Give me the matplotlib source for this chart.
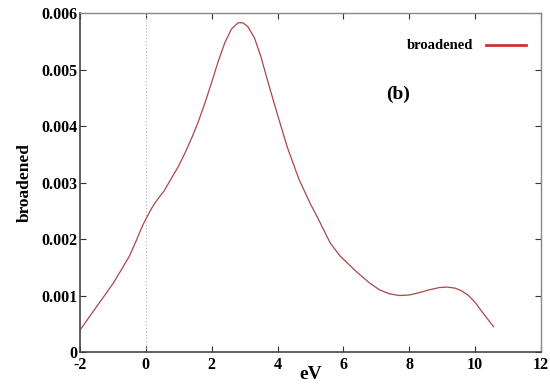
import matplotlib
matplotlib.use('Agg')
import matplotlib.pyplot as plt

# curve values (eV, broadened)
energy = [-2.0, -1.5, -1.0, -0.7, -0.5, -0.3, -0.1, 0.05, 0.2, 0.35, 0.55, 0.8,
          1.0, 1.2, 1.4, 1.6, 1.8, 2.0, 2.2, 2.4, 2.6, 2.8, 2.95, 3.1, 3.3,
          3.5, 3.7, 4.0, 4.3, 4.65, 5.0, 5.2, 5.6, 5.9, 6.4, 6.8,
          7.1, 7.4, 7.7, 8.0, 8.3, 8.6, 8.9, 9.15, 9.4, 9.6, 9.8, 10.0, 10.2,
          10.4, 10.56]
broadened = [0.00039, 0.00080, 0.00121, 0.00150, 0.00170, 0.00196, 0.00224,
             0.00241, 0.00257, 0.00270, 0.00285, 0.00310, 0.00330, 0.00354,
             0.00380, 0.00409, 0.00442, 0.00478, 0.00515, 0.00548, 0.00572,
             0.00583, 0.00583, 0.00576, 0.00556, 0.00522, 0.00480, 0.00420,
             0.00362, 0.00306, 0.00262, 0.00240, 0.00193, 0.00170, 0.00142,
             0.00122, 0.00110, 0.00103, 0.00100, 0.00101,
             0.00105, 0.00110, 0.00114, 0.00115, 0.00113, 0.00108, 0.00100,
             0.00088, 0.00072, 0.00057, 0.00045]

x_ticks = [-2, 0, 2, 4, 6, 8, 10, 12]
y_ticks = [0, 0.001, 0.002, 0.003, 0.004, 0.005, 0.006]
y_labels = ['0', '0.001', '0.002', '0.003', '0.004', '0.005', '0.006']

plt.rcParams['font.family'] = ['Liberation Serif', 'DejaVu Serif']
plt.rcParams['font.weight'] = 'bold'

fig = plt.figure(figsize=(5.5, 3.85), dpi=100)
ax = fig.add_axes([0.1455, 0.0857, 0.838, 0.880])

ax.axvline(0, color='#aaaaaa', lw=0.8, ls=(0, (1, 2)))
ax.plot(energy, broadened, color='#a84848', lw=0.9)

# legend drawn by hand: label on the left, red line sample on the right
ax.text(0.852, 0.905, 'broadened', transform=ax.transAxes, ha='right', va='center',
        fontsize=10.5, fontweight='bold')
ax.plot([0.88, 0.968], [0.905, 0.905], transform=ax.transAxes, color='#cc3333', lw=2)
ax.text(0.69, 0.76, '(b)', transform=ax.transAxes, ha='center', va='center',
        fontsize=14, fontweight='bold')

ax.set_xlim(-2, 12)
ax.set_ylim(0, 0.006)
ax.set_xticks(x_ticks)
ax.set_xticklabels([str(t) for t in x_ticks])
ax.set_yticks(y_ticks)
ax.set_yticklabels(y_labels)
ax.tick_params(direction='in', length=4, width=0.8, top=True, right=True,
               labelsize=11.5, colors='#333333', labelcolor='black')
ax.tick_params(axis='x', pad=3.5)
ax.tick_params(axis='y', pad=2)
for lab in ax.get_xticklabels() + ax.get_yticklabels():
    lab.set_fontweight('bold')

for side in ['left', 'bottom']:
    ax.spines[side].set_color('#444444')
    ax.spines[side].set_linewidth(1.2)
for side in ['top', 'right']:
    ax.spines[side].set_color('#888888')
    ax.spines[side].set_linewidth(1.0)

ax.set_xlabel('eV', fontsize=14, fontweight='bold', labelpad=-5)
ax.set_ylabel('broadened', fontsize=12.5, fontweight='bold', labelpad=6)

fig.savefig('out.png', dpi=100)
